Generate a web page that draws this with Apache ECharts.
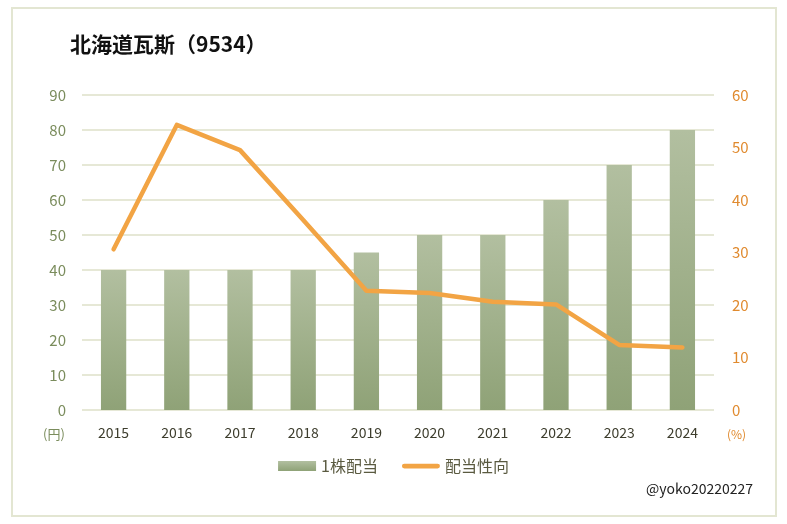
<!DOCTYPE html>
<html><head><meta charset="utf-8">
<script src="https://cdn.jsdelivr.net/npm/echarts@6/dist/echarts.min.js"></script>
<style>html,body{margin:0;padding:0;background:#fff}#c{width:787px;height:524px}</style>
</head><body><div id="c"></div>
<script>
const years = ['2015','2016','2017','2018','2019','2020','2021','2022','2023','2024'];
const dividend = [40,40,40,40,45,50,50,60,70,80];
const payoutRatio = [30.6,54.3,49.5,36.2,22.7,22.3,20.6,20.1,12.4,11.9];
const leftTicks = {min:0,max:90,interval:10};
const rightTicks = {min:0,max:60,interval:10};

const font = '"Noto Sans CJK JP", "Noto Sans", sans-serif';
const chart = echarts.init(document.getElementById('c'), null, {renderer:'canvas'});
chart.setOption({
  animation:false,
  textStyle:{fontFamily:font},
  graphic:[
    {type:'rect',shape:{x:12,y:8,width:764,height:508},style:{fill:'none',stroke:'#e3e6d2',lineWidth:2}},
    {type:'text',left:70,top:34,style:{text:'北海道瓦斯（9534）',font:'bold 21px '+font,fill:'#111'}},
    {type:'text',left:43,top:428,style:{text:'(円)',font:'13px '+font,fill:'#7a8c5c'}},
    {type:'text',left:727,top:428,style:{text:'(%)',font:'12px '+font,fill:'#e08a2e'}},
    {type:'text',left:646,top:482,style:{text:'@yoko20220227',font:'14px '+font,fill:'#222'}}
  ],
  legend:{
    bottom:45,left:'center',itemGap:24,itemWidth:38,itemHeight:10,
    textStyle:{fontSize:16,color:'#5a5a40',fontFamily:font},
    data:[{name:'1株配当',icon:'rect'},{name:'配当性向',icon:'path://M2.5,0 L37.5,0 A2.5,2.5 0 0 1 37.5,5 L2.5,5 A2.5,2.5 0 0 1 2.5,0 Z',itemStyle:{color:'#f2a444'}}]
  },
  grid:{left:82,right:73,top:95,bottom:114},
  xAxis:{type:'category',data:years,
    axisLine:{show:false},axisTick:{show:false},
    axisLabel:{color:'#3d3d2d',fontSize:14,margin:16,fontFamily:font}},
  yAxis:[
    {type:'value',min:leftTicks.min,max:leftTicks.max,interval:leftTicks.interval,
     axisLabel:{color:'#7a8c5c',fontSize:15,margin:16,fontFamily:font},
     splitLine:{lineStyle:{color:'#e6e8d6',width:2}},axisLine:{show:false}},
    {type:'value',min:rightTicks.min,max:rightTicks.max,interval:rightTicks.interval,position:'right',
     axisLabel:{color:'#e08a2e',fontSize:15,margin:18,fontFamily:font},
     splitLine:{show:false},axisLine:{show:false}}
  ],
  series:[
    {name:'1株配当',type:'bar',data:dividend,barWidth:'40%',yAxisIndex:0,
     itemStyle:{color:new echarts.graphic.LinearGradient(0,0,0,1,[{offset:0,color:'#b2bfa0'},{offset:1,color:'#8fa277'}])}},
    {name:'配当性向',type:'line',data:payoutRatio,yAxisIndex:1,symbol:'none',
     lineStyle:{color:'#f2a444',width:4.5,cap:'round',join:'round'},itemStyle:{color:'#f2a444'}}
  ]
});
</script></body></html>
